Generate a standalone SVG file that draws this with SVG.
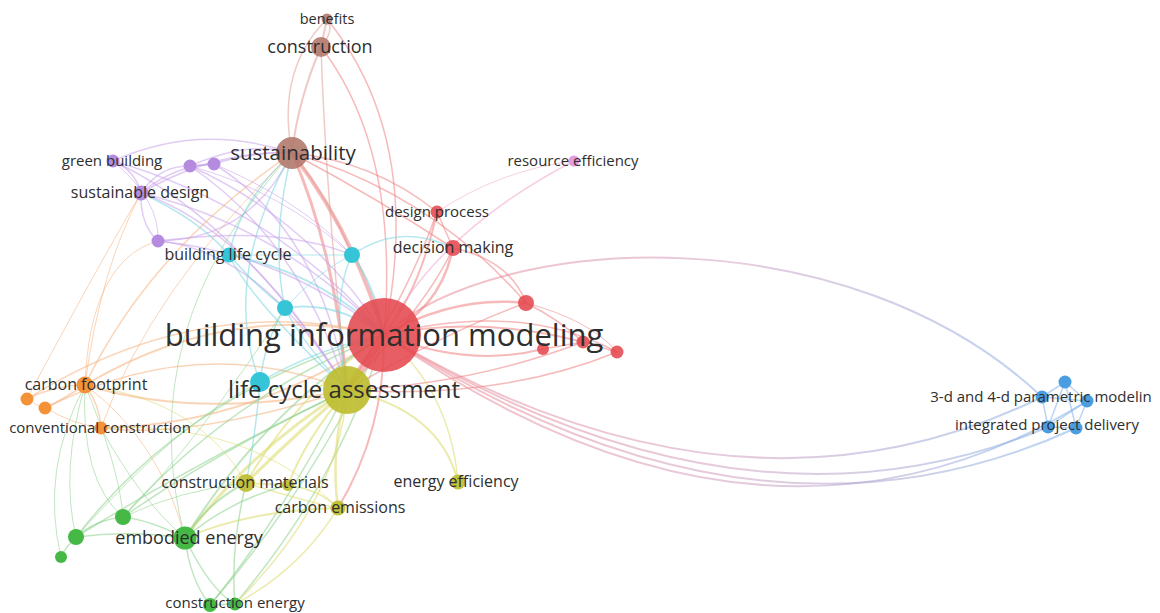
<svg xmlns="http://www.w3.org/2000/svg" width="1160" height="613" viewBox="0 0 1160 613">
<defs>
<linearGradient id="gRB" gradientUnits="userSpaceOnUse" x1="384" y1="0" x2="1087" y2="0">
<stop offset="0" stop-color="#ee8a92"/><stop offset="0.5" stop-color="#cfa0c0"/><stop offset="1" stop-color="#7fb2ea"/>
</linearGradient>
<style>
.e path{fill:none;stroke-linecap:round;opacity:.55}
.r{stroke:#ef8282}.rp{stroke:#f0a6cc}.br{stroke:#e0a096}.pu{stroke:#c9a2ea}.cy{stroke:#7ad6e0}
.or{stroke:#f6b07c}.ye{stroke:#dada6a}.gr{stroke:#8cd28c}.bl{stroke:#7fb2ea}.gb{stroke:url(#gRB)}
text{font-family:"Open Sans","Noto Sans","DejaVu Sans",sans-serif;fill:#2e2e2e;text-anchor:middle}
.nR{fill:#e4494f;opacity:.88}.nY{fill:#bcbc2c;opacity:.9}.nB{fill:#b0766a;opacity:.88}.nP{fill:#b58be0}
.nC{fill:#35c5d6}.nK{fill:#e69be0}.nO{fill:#f59238}.nG{fill:#45b845}.nL{fill:#4a9de0}
</style>
</defs>
<g id="edges" class="e">
<path class="gb" stroke-width="2" d="M384,335 C500,230 850,215 1042,397"/>
<path class="gb" stroke-width="2" d="M384,335 Q740,545 1042,397"/>
<path class="gb" stroke-width="2" d="M384,335 Q745,555 1048,427"/>
<path class="gb" stroke-width="2" d="M384,335 Q755,575 1076,428"/>
<path class="gb" stroke-width="2" d="M384,335 Q765,600 1087,401"/>
<path class="r" stroke-width="4" d="M384,335 Q352,230 292,153"/>
<path class="r" stroke-width="3" d="M347,390 Q335,250 292,153"/>
<path class="r" stroke-width="1.5" d="M321,47 Q400,150 384,335"/>
<path class="r" stroke-width="1.5" d="M327,19 Q425,140 384,335"/>
<path class="br" stroke-width="1.5" d="M327,19 Q276,70 292,153"/>
<path class="br" stroke-width="2" d="M321,47 Q298,100 292,153"/>
<path class="br" stroke-width="1.5" d="M321,47 Q326,200 347,390"/>
<path class="br" stroke-width="2" d="M327,19 L321,47"/>
<path class="br" stroke-width="1.5" d="M327,19 Q335,30 321,47"/>
<path class="pu" stroke-width="1.5" d="M384,335 Q274,207 113,161"/>
<path class="pu" stroke-width="1.5" d="M384,335 Q283,228 141,193"/>
<path class="pu" stroke-width="1.5" d="M384,335 Q312,221 190,166"/>
<path class="pu" stroke-width="1.5" d="M347,390 Q320,230 214,164"/>
<path class="pu" stroke-width="1.5" d="M384,335 Q285,254 158,241"/>
<path class="cy" stroke-width="2" d="M384,335 Q318,272 229,255"/>
<path class="cy" stroke-width="2" d="M384,335 Q375,285 352,255"/>
<path class="cy" stroke-width="2" d="M384,335 Q335,300 285,308"/>
<path class="cy" stroke-width="1.5" d="M384,335 Q318,348 260,382"/>
<path class="r" stroke-width="2" d="M384,335 Q420,290 437,212"/>
<path class="r" stroke-width="2.5" d="M384,335 Q440,310 453,248"/>
<path class="rp" stroke-width="1.5" d="M384,335 Q440,230 574,161"/>
<path class="r" stroke-width="2.5" d="M384,335 Q455,295 526,303"/>
<path class="r" stroke-width="2" d="M384,335 Q470,368 543,349"/>
<path class="r" stroke-width="2" d="M384,335 Q480,315 583,342"/>
<path class="r" stroke-width="1.5" d="M384,335 Q520,300 617,352"/>
<path class="r" stroke-width="1.5" d="M347,390 Q500,400 617,352"/>
<path class="r" stroke-width="1.5" d="M347,390 Q470,385 583,342"/>
<path class="or" stroke-width="2" d="M384,335 Q227,300 85,385"/>
<path class="or" stroke-width="1.5" d="M384,335 Q200,290 27,399"/>
<path class="or" stroke-width="1.5" d="M347,390 Q200,330 45,408"/>
<path class="or" stroke-width="2" d="M384,335 Q253,425 101,428"/>
<path class="or" stroke-width="1.5" d="M347,390 Q190,440 101,428"/>
<path class="or" stroke-width="2" d="M347,390 Q200,420 85,385"/>
<path class="ye" stroke-width="2" d="M384,335 Q300,390 246,483"/>
<path class="r" stroke-width="2" d="M384,335 Q385,430 338,508"/>
<path class="ye" stroke-width="1.5" d="M384,335 Q450,390 458,482"/>
<path class="gr" stroke-width="2" d="M384,335 Q265,410 185,538"/>
<path class="gr" stroke-width="1.5" d="M384,335 Q231,395 123,517"/>
<path class="gr" stroke-width="1.5" d="M384,335 Q190,390 76,537"/>
<path class="gr" stroke-width="1.5" d="M384,335 Q310,490 210,605"/>
<path class="gr" stroke-width="1.5" d="M384,335 Q340,480 235,604"/>
<path class="ye" stroke-width="3" d="M347,390 Q300,430 246,483"/>
<path class="ye" stroke-width="2" d="M347,390 Q305,440 288,485"/>
<path class="ye" stroke-width="2.5" d="M347,390 Q330,450 338,508"/>
<path class="ye" stroke-width="2" d="M347,390 Q440,410 458,482"/>
<path class="ye" stroke-width="3" d="M347,390 Q250,450 185,538"/>
<path class="gr" stroke-width="1.5" d="M347,390 Q220,450 123,517"/>
<path class="gr" stroke-width="1.5" d="M347,390 Q200,460 76,537"/>
<path class="gr" stroke-width="1.5" d="M347,390 Q280,520 210,605"/>
<path class="ye" stroke-width="1.5" d="M347,390 Q340,500 235,604"/>
<path class="cy" stroke-width="1.5" d="M347,390 Q250,300 229,255"/>
<path class="cy" stroke-width="1.5" d="M347,390 Q330,300 352,255"/>
<path class="cy" stroke-width="1.5" d="M347,390 Q300,340 285,308"/>
<path class="pu" stroke-width="1.5" d="M347,390 Q260,250 158,241"/>
<path class="pu" stroke-width="1.5" d="M347,390 Q250,230 141,193"/>
<path class="pu" stroke-width="1.5" d="M347,390 Q300,240 190,166"/>
<path class="pu" stroke-width="1.5" d="M347,390 Q240,220 113,161"/>
<path class="r" stroke-width="1.5" d="M347,390 Q430,300 453,248"/>
<path class="r" stroke-width="1.5" d="M347,390 Q450,330 526,303"/>
<path class="r" stroke-width="1.5" d="M347,390 Q410,290 437,212"/>
<path class="pu" stroke-width="1.5" d="M292,153 Q200,122 113,161"/>
<path class="pu" stroke-width="1.5" d="M292,153 Q215,150 141,193"/>
<path class="pu" stroke-width="1.5" d="M292,153 Q250,140 190,166"/>
<path class="pu" stroke-width="1.5" d="M292,153 Q260,150 214,164"/>
<path class="pu" stroke-width="1.5" d="M292,153 Q250,240 158,241"/>
<path class="cy" stroke-width="1.5" d="M292,153 Q240,200 229,255"/>
<path class="br" stroke-width="1.5" d="M292,153 Q330,200 352,255"/>
<path class="cy" stroke-width="1.5" d="M292,153 Q270,240 285,308"/>
<path class="cy" stroke-width="1.5" d="M292,153 Q220,280 260,382"/>
<path class="r" stroke-width="1.5" d="M292,153 Q374,161 437,212"/>
<path class="r" stroke-width="1.5" d="M292,153 Q431,193 526,303"/>
<path class="r" stroke-width="1.5" d="M292,153 Q380,200 453,248"/>
<path class="or" stroke-width="1.5" d="M292,153 Q150,250 85,385"/>
<path class="or" stroke-width="1" d="M292,153 Q150,290 101,428"/>
<path class="gr" stroke-width="1" d="M292,153 Q130,330 185,538"/>
<path class="pu" stroke-width="1.5" d="M113,161 Q135,170 141,193"/>
<path class="pu" stroke-width="1" d="M113,161 Q160,200 158,241"/>
<path class="pu" stroke-width="1.5" d="M141,193 Q140,225 158,241"/>
<path class="pu" stroke-width="1.5" d="M141,193 Q160,165 190,166"/>
<path class="pu" stroke-width="1.5" d="M141,193 Q175,165 214,164"/>
<path class="pu" stroke-width="2" d="M190,166 L214,164"/>
<path class="pu" stroke-width="1.5" d="M158,241 Q280,225 352,255"/>
<path class="cy" stroke-width="1.5" d="M141,193 Q200,220 229,255"/>
<path class="pu" stroke-width="1" d="M190,166 Q280,190 352,255"/>
<path class="pu" stroke-width="1" d="M214,164 Q300,200 352,255"/>
<path class="cy" stroke-width="1.5" d="M229,255 Q260,290 285,308"/>
<path class="cy" stroke-width="1" d="M229,255 Q300,255 352,255"/>
<path class="cy" stroke-width="1.5" d="M352,255 Q400,222 453,248"/>
<path class="cy" stroke-width="1.5" d="M285,308 Q265,340 260,382"/>
<path class="cy" stroke-width="1.5" d="M260,382 Q255,440 246,483"/>
<path class="cy" stroke-width="1" d="M352,255 Q320,270 285,308"/>
<path class="or" stroke-width="1.5" d="M85,385 Q55,385 27,399"/>
<path class="or" stroke-width="1.5" d="M85,385 Q62,400 45,408"/>
<path class="or" stroke-width="1" d="M27,399 Q35,405 45,408"/>
<path class="or" stroke-width="1.5" d="M85,385 Q100,405 101,428"/>
<path class="or" stroke-width="1" d="M45,408 Q75,425 101,428"/>
<path class="or" stroke-width="1" d="M85,385 Q90,260 158,241"/>
<path class="or" stroke-width="1" d="M85,385 Q100,270 141,193"/>
<path class="or" stroke-width="1" d="M27,399 Q90,280 141,193"/>
<path class="gr" stroke-width="1" d="M85,385 Q60,470 76,537"/>
<path class="gr" stroke-width="1" d="M85,385 Q120,470 123,517"/>
<path class="gr" stroke-width="1" d="M101,428 Q140,500 185,538"/>
<path class="or" stroke-width="1" d="M85,385 Q160,440 185,538"/>
<path class="ye" stroke-width="1" d="M85,385 Q200,400 246,483"/>
<path class="ye" stroke-width="1" d="M101,428 Q250,420 338,508"/>
<path class="ye" stroke-width="2" d="M246,483 L288,485"/>
<path class="ye" stroke-width="1.5" d="M246,483 Q300,500 338,508"/>
<path class="ye" stroke-width="1.5" d="M288,485 Q320,490 338,508"/>
<path class="gr" stroke-width="2" d="M246,483 Q210,500 185,538"/>
<path class="ye" stroke-width="2" d="M338,508 Q250,510 185,538"/>
<path class="gr" stroke-width="1.5" d="M288,485 Q230,500 185,538"/>
<path class="gr" stroke-width="1.5" d="M246,483 Q230,550 235,604"/>
<path class="ye" stroke-width="1.5" d="M338,508 Q300,570 235,604"/>
<path class="gr" stroke-width="1" d="M246,483 Q180,490 123,517"/>
<path class="gr" stroke-width="1.5" d="M185,538 Q150,520 123,517"/>
<path class="gr" stroke-width="1.5" d="M185,538 Q130,530 76,537"/>
<path class="gr" stroke-width="1.5" d="M123,517 Q95,520 76,537"/>
<path class="gr" stroke-width="1.5" d="M76,537 Q65,548 61,557"/>
<path class="gr" stroke-width="1.5" d="M185,538 Q190,580 210,605"/>
<path class="gr" stroke-width="1.5" d="M185,538 Q210,590 235,604"/>
<path class="gr" stroke-width="1.5" d="M210,605 L235,604"/>
<path class="gr" stroke-width="1" d="M123,517 Q80,480 85,385"/>
<path class="gr" stroke-width="1" d="M61,557 Q40,470 85,385"/>
<path class="gr" stroke-width="1" d="M123,517 Q200,440 285,308"/>
<path class="gr" stroke-width="1" d="M76,537 Q180,420 260,382"/>
<path class="r" stroke-width="1.5" d="M437,212 L453,248"/>
<path class="rp" stroke-width="1" d="M437,212 Q500,170 574,161"/>
<path class="r" stroke-width="1.5" d="M453,248 Q510,260 526,303"/>
<path class="r" stroke-width="1.5" d="M526,303 Q560,320 583,342"/>
<path class="r" stroke-width="1.5" d="M543,349 L583,342"/>
<path class="r" stroke-width="1.5" d="M583,342 L617,352"/>
<path class="r" stroke-width="1" d="M526,303 Q590,320 617,352"/>
<path class="bl" stroke-width="1.5" d="M1065,382 L1087,401"/>
<path class="bl" stroke-width="1.5" d="M1087,401 L1076,428"/>
<path class="bl" stroke-width="1.5" d="M1076,428 L1048,427"/>
<path class="bl" stroke-width="1.5" d="M1048,427 L1042,397"/>
<path class="bl" stroke-width="1.5" d="M1042,397 L1065,382"/>
<path class="bl" stroke-width="1.5" d="M1065,382 L1076,428"/>
<path class="bl" stroke-width="1.5" d="M1042,397 L1087,401"/>
<path class="bl" stroke-width="1.5" d="M1048,427 L1087,401"/>
<path class="bl" stroke-width="1.5" d="M1065,382 L1048,427"/>
<path class="r" stroke-width="7" d="M384,335 L347,390"/>
</g>
<g id="n-green-3"><circle class="nG" cx="61" cy="557" r="6"/></g>
<g id="n-green-2"><circle class="nG" cx="76" cy="537" r="8"/></g>
<g id="n-green-1"><circle class="nG" cx="123" cy="517" r="8"/></g>
<g id="n-orange-1"><circle class="nO" cx="27" cy="399" r="6.5"/></g>
<g id="n-orange-2"><circle class="nO" cx="45" cy="408" r="6.5"/></g>
<g id="n-purple-1"><circle class="nP" cx="190" cy="166" r="6.5"/></g>
<g id="n-purple-2"><circle class="nP" cx="214" cy="164" r="6.5"/></g>
<g id="n-purple-3"><circle class="nP" cx="158" cy="241" r="6.5"/></g>
<g id="n-cyan-1"><circle class="nC" cx="352" cy="255" r="8"/></g>
<g id="n-cyan-2"><circle class="nC" cx="285" cy="308" r="8"/></g>
<g id="n-cyan-3"><circle class="nC" cx="260" cy="382" r="10"/></g>
<g id="n-red-1"><circle class="nR" cx="526" cy="303" r="8"/></g>
<g id="n-red-2"><circle class="nR" cx="543" cy="349" r="6"/></g>
<g id="n-red-3"><circle class="nR" cx="583" cy="342" r="6.5"/></g>
<g id="n-red-4"><circle class="nR" cx="617" cy="352" r="6.5"/></g>
<g id="n-yellow-1"><circle class="nY" cx="288" cy="485" r="6"/></g>
<g id="n-blue-1"><circle class="nL" cx="1065" cy="382" r="6.5"/></g>
<g id="n-blue-2"><circle class="nL" cx="1087" cy="401" r="6.5"/></g>
<g id="n-blue-3"><circle class="nL" cx="1076" cy="428" r="6.5"/></g>
<g id="n-benefits"><circle class="nB" cx="327" cy="19" r="5.5"/><text x="327" y="24" font-size="14.5">benefits</text></g>
<g id="n-construction"><circle class="nB" cx="321" cy="47" r="10"/><text x="320" y="53" font-size="18">construction</text></g>
<g id="n-sustainability"><circle class="nB" cx="292" cy="153" r="16"/><text x="293" y="160" font-size="20.5">sustainability</text></g>
<g id="n-green-building"><circle class="nP" cx="113" cy="161" r="6.5"/><text x="112" y="166" font-size="15">green building</text></g>
<g id="n-sustainable-design"><circle class="nP" cx="141" cy="193" r="7.5"/><text x="140" y="198" font-size="16">sustainable design</text></g>
<g id="n-building-life-cycle"><circle class="nC" cx="229" cy="255" r="7.5"/><text x="228" y="260" font-size="16">building life cycle</text></g>
<g id="n-resource-efficiency"><circle class="nK" cx="574" cy="161" r="5.5"/><text x="573" y="166" font-size="15">resource efficiency</text></g>
<g id="n-design-process"><circle class="nR" cx="437" cy="212" r="6.5"/><text x="437" y="217" font-size="15">design process</text></g>
<g id="n-decision-making"><circle class="nR" cx="453" cy="248" r="8"/><text x="453" y="253" font-size="16">decision making</text></g>
<g id="n-carbon-footprint"><circle class="nO" cx="85" cy="385" r="8.5"/><text x="86" y="390" font-size="16">carbon footprint</text></g>
<g id="n-conventional-construction"><circle class="nO" cx="101" cy="428" r="6.5"/><text x="100" y="433" font-size="15">conventional construction</text></g>
<g id="n-construction-materials"><circle class="nY" cx="246" cy="483" r="9"/><text x="245" y="488" font-size="16">construction materials</text></g>
<g id="n-carbon-emissions"><circle class="nY" cx="338" cy="508" r="7.5"/><text x="340" y="513" font-size="16">carbon emissions</text></g>
<g id="n-energy-efficiency"><circle class="nY" cx="458" cy="482" r="7.5"/><text x="456" y="487" font-size="16">energy efficiency</text></g>
<g id="n-construction-energy-1"><circle class="nG" cx="210" cy="605" r="7"/></g>
<g id="n-construction-energy"><circle class="nG" cx="235" cy="604" r="6.5"/><text x="235" y="608" font-size="15">construction energy</text></g>
<g id="n-embodied-energy"><circle class="nG" cx="185" cy="538" r="11.5"/><text x="189" y="544" font-size="18">embodied energy</text></g>
<g id="n-parametric-modeling"><circle class="nL" cx="1042" cy="397" r="6.5"/><text x="1041" y="402" font-size="15">3-d and 4-d parametric modelin</text></g>
<g id="n-integrated-project-delivery"><circle class="nL" cx="1048" cy="427" r="6.5"/><text x="1047" y="430" font-size="15">integrated project delivery</text></g>
<g id="n-life-cycle-assessment"><circle class="nY" cx="347" cy="390" r="24"/><text x="344" y="398" font-size="24">life cycle assessment</text></g>
<g id="n-building-information-modeling"><circle class="nR" cx="384" cy="335" r="37"/><text x="384" y="346" font-size="31">building information modeling</text></g>
</svg>
